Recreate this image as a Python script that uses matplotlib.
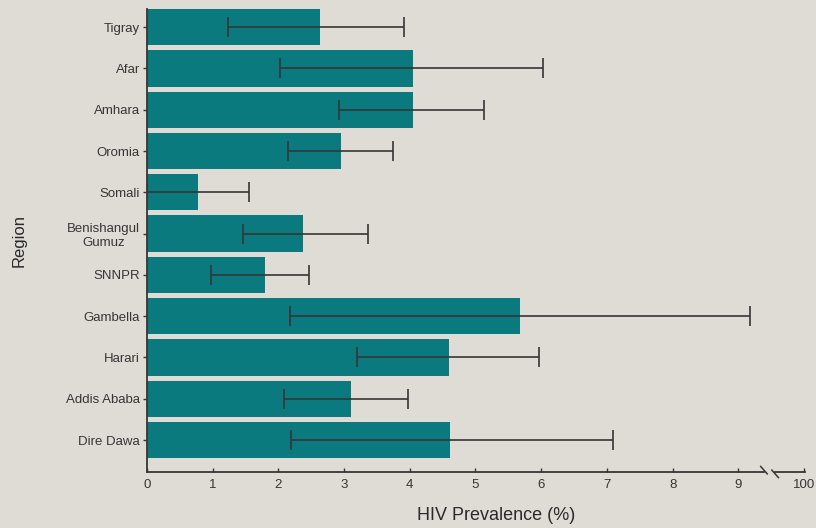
import matplotlib.pyplot as plt

regions = ["Tigray", "Afar", "Amhara", "Oromia", "Somali", "Benishangul\nGumuz",
           "SNNPR", "Gambella", "Harari", "Addis Ababa", "Dire Dawa"]
prevalence = [2.64, 4.05, 4.05, 2.95, 0.78, 2.37, 1.79, 5.68, 4.60, 3.10, 4.61]
ci_low = [1.24, 2.03, 2.92, 2.14, 0.0, 1.47, 0.98, 2.18, 3.19, 2.08, 2.20]
ci_high = [3.91, 6.03, 5.13, 3.74, 1.56, 3.36, 2.47, 9.18, 5.97, 3.98, 7.10]

xtick_pos = [0, 1, 2, 3, 4, 5, 6, 7, 8, 9, 10]
xtick_labels = ["0", "1", "2", "3", "4", "5", "6", "7", "8", "9", "100"]

bg = "#dfdcd5"
teal = "#0a7a7e"
ink = "#363636"

plt.rcParams['font.family'] = ['Liberation Sans', 'DejaVu Sans']

fig = plt.figure(figsize=(8.16, 5.28), dpi=100, facecolor=bg)
ax = fig.add_axes([0.180, 0.106, 0.807, 0.877], facecolor=bg)

ypos = list(range(len(regions)))
xerr = [[p - lo for p, lo in zip(prevalence, ci_low)],
        [hi - p for p, hi in zip(prevalence, ci_high)]]

ax.barh(ypos, prevalence, height=0.88, color=teal, zorder=2)
ax.errorbar(prevalence, ypos, xerr=xerr, fmt='none', ecolor=ink,
            elinewidth=1.2, capsize=7, capthick=1.2, zorder=3)

ax.set_xlim(0, 10.02)
ax.set_ylim(10.775, -0.44)

ax.set_yticks(ypos)
ax.set_yticklabels(regions, fontsize=9.5, color=ink, linespacing=1.25,
                   multialignment='center')
ax.set_xticks(xtick_pos)
ax.set_xticklabels(xtick_labels, fontsize=9.5, color=ink)

ax.tick_params(axis='y', length=3, width=1, color=ink, pad=2)
ax.tick_params(axis='x', length=3, width=1, color=ink, direction='in', pad=5)

for side in ['top', 'right', 'bottom']:
    ax.spines[side].set_visible(False)
ax.spines['left'].set_color(ink)
ax.spines['left'].set_linewidth(1.3)

# broken x axis drawn by hand
trans = ax.get_xaxis_transform()
ax.plot([0, 9.39], [0, 0], color=ink, lw=1.3, transform=trans, clip_on=False)
ax.plot([9.56, 10.02], [0, 0], color=ink, lw=1.3, transform=trans, clip_on=False)
ax.plot([9.34, 9.44], [0.012, -0.004], color=ink, lw=1.1, transform=trans, clip_on=False)
ax.plot([9.51, 9.61], [0.004, -0.012], color=ink, lw=1.1, transform=trans, clip_on=False)

ax.set_xlabel("HIV Prevalence (%)", fontsize=13, color="#2a2a2a")
ax.xaxis.set_label_coords(0.53, -0.075)
ax.set_ylabel("Region", fontsize=12, color="#2a2a2a")
ax.yaxis.set_label_coords(-0.182, 0.5)

fig.savefig("out.png", dpi=100, facecolor=bg)
